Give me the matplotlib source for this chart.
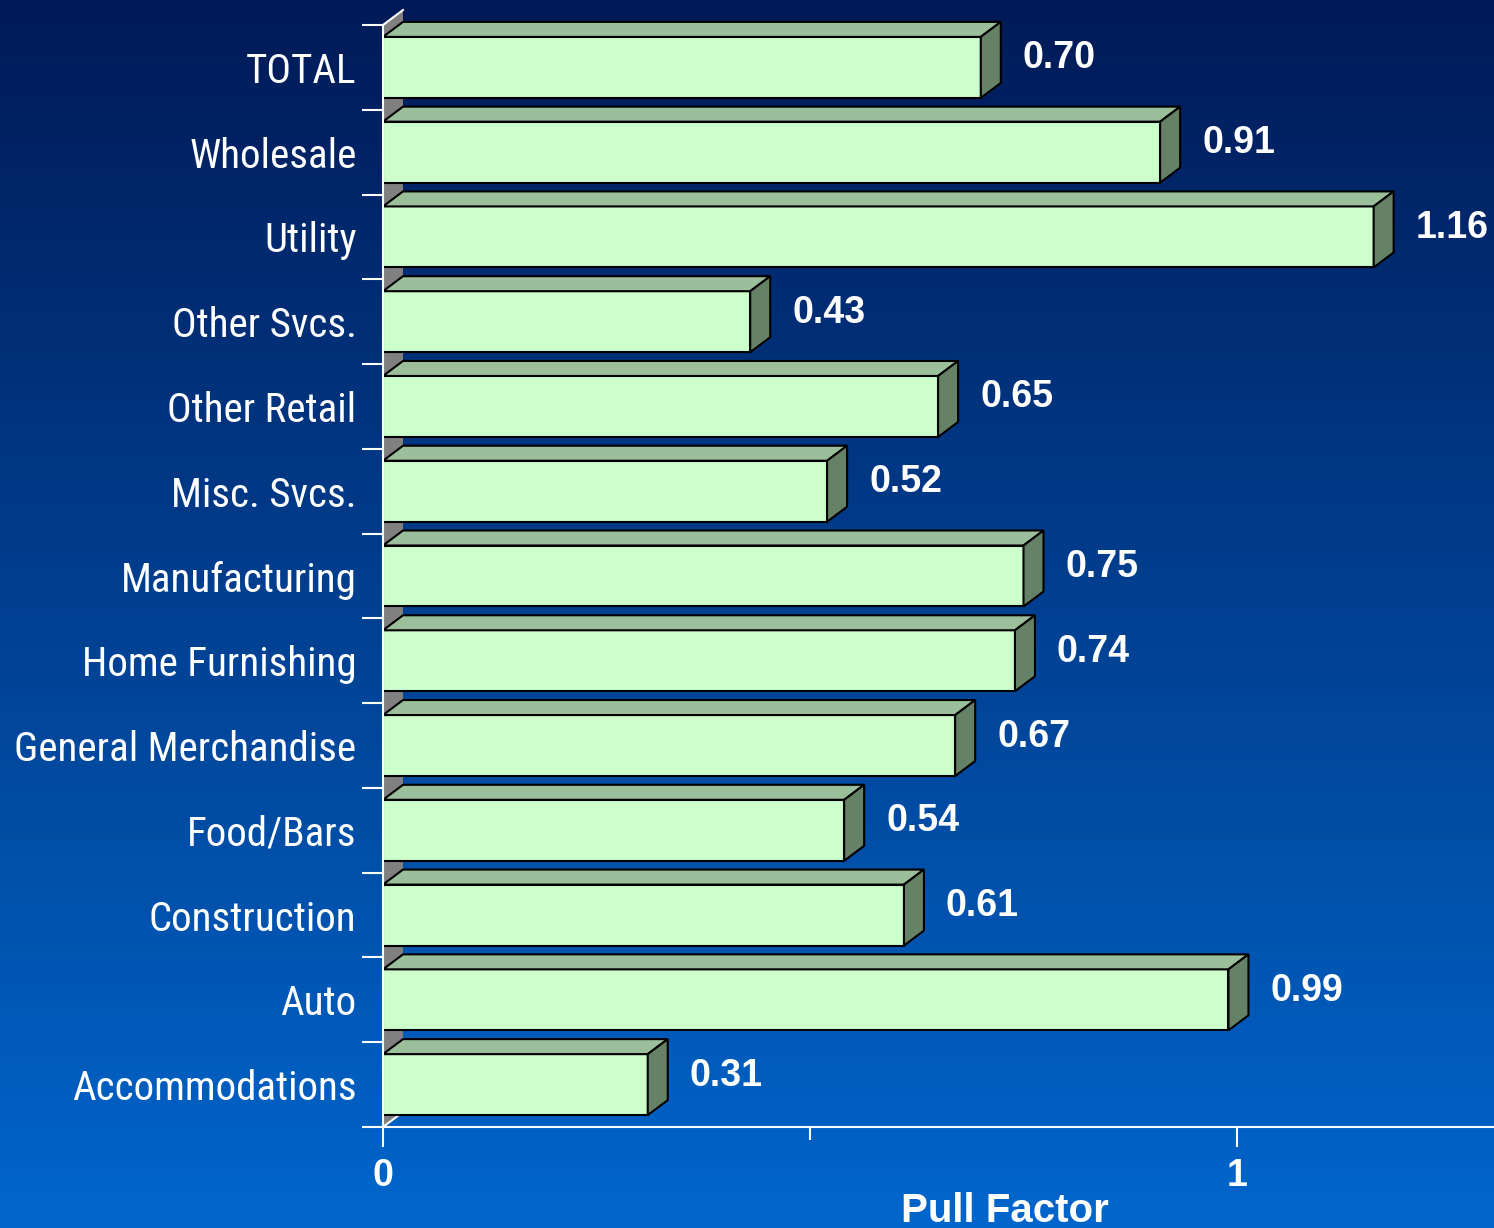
import numpy as np
import matplotlib.pyplot as plt
from matplotlib.patches import Polygon
from matplotlib.colors import LinearSegmentedColormap

categories = ["TOTAL", "Wholesale", "Utility", "Other Svcs.", "Other Retail", "Misc. Svcs.",
              "Manufacturing", "Home Furnishing", "General Merchandise", "Food/Bars",
              "Construction", "Auto", "Accommodations"]
pull_factor = [0.70, 0.91, 1.16, 0.43, 0.65, 0.52, 0.75, 0.74, 0.67, 0.54, 0.61, 0.99, 0.31]
value_labels = ["0.70", "0.91", "1.16", "0.43", "0.65", "0.52", "0.75", "0.74", "0.67",
                "0.54", "0.61", "0.99", "0.31"]
xtick_values = [0, 1]
xtick_labels = ["0", "1"]
axis_title = "Pull Factor"

W, H = 1494, 1228
fig = plt.figure(figsize=(W / 100, H / 100), dpi=100)

# background gradient
bg = fig.add_axes([0, 0, 1, 1])
cmap = LinearSegmentedColormap.from_list("bg", ["#001a57", "#0066cc"])
bg.imshow(np.linspace(0, 1, 256).reshape(-1, 1), aspect="auto", cmap=cmap,
          extent=[0, 1, 0, 1], origin="upper")
bg.axis("off")

x0_px, x1_px = 383, 1237
top_px, bot_px = 25, 1127
ax = fig.add_axes([x0_px / W, (H - bot_px) / H, (W - x0_px) / W, (bot_px - top_px) / H])
ax.patch.set_alpha(0)

n = len(categories)
unit_x = x1_px - x0_px
unit_y = (bot_px - top_px) / n
ax.set_xlim(0, (W - x0_px) / unit_x)
ax.set_ylim(-0.5, n - 0.5)

dx = 20 / unit_x
dy = 15 / unit_y
h = 61 / unit_y
ypos = np.arange(n)[::-1]

front = "#ccffcc"
topc = "#9bbf9b"
side = "#668266"

# side wall
ax.add_patch(Polygon([(0, -0.5), (dx, -0.5 + dy), (dx, n - 0.5 + dy), (0, n - 0.5)],
                     closed=True, facecolor="#808080", edgecolor="none", clip_on=False, zorder=1))
ax.plot([0, dx], [n - 0.5, n - 0.5 + dy], color="white", lw=1.5, clip_on=False, zorder=2)
ax.plot([0, dx], [-0.5, -0.5 + dy], color="white", lw=1.5, clip_on=False, zorder=2)

ax.barh(ypos, pull_factor, height=h, color=front, edgecolor="black", linewidth=1.5, zorder=3)
for y, v, lab in zip(ypos, pull_factor, value_labels):
    t = y + h / 2
    b = y - h / 2
    ax.add_patch(Polygon([(0, t), (v, t), (v + dx, t + dy), (dx, t + dy)], closed=True,
                         facecolor=topc, edgecolor="black", lw=1.5, zorder=3, clip_on=False))
    ax.add_patch(Polygon([(v, b), (v + dx, b + dy), (v + dx, t + dy), (v, t)], closed=True,
                         facecolor=side, edgecolor="black", lw=1.5, zorder=3, clip_on=False))
    ax.text(v + dx + 22 / unit_x, y + 9 / unit_y, lab, color="white", fontsize=27,
            fontweight="bold", family="Liberation Sans", ha="left", va="center")

for s in ["top", "right"]:
    ax.spines[s].set_visible(False)
for s in ["left", "bottom"]:
    ax.spines[s].set_color("white")
    ax.spines[s].set_linewidth(1.5)
    ax.spines[s].set_zorder(4)

ax.set_yticks(np.arange(-0.5, n, 1.0))
ax.set_yticklabels([])
ax.set_yticks(ypos, categories, minor=True)
ax.tick_params(axis="y", which="major", length=15, width=1.5, color="white", direction="out")
ax.tick_params(axis="y", which="minor", length=0, pad=19, labelcolor="white", labelsize=29.5)
for lab in ax.get_yticklabels(minor=True):
    lab.set_family(["Roboto Condensed", "Liberation Sans"])

ax.set_xticks(xtick_values, xtick_labels)
ax.set_xticks([0.5], minor=True)
ax.tick_params(axis="x", which="major", length=14.5, width=1.5, color="white",
               labelcolor="white", labelsize=27, pad=8)
ax.tick_params(axis="x", which="minor", length=9.5, width=1.5, color="white")
for lab in ax.get_xticklabels():
    lab.set_fontweight("bold")
    lab.set_family("Liberation Sans")

fig.text(901 / W, (H - 1222) / H, axis_title, color="white", fontsize=29, fontweight="bold",
         family="Liberation Sans", ha="left", va="baseline")

fig.savefig("out.png", dpi=100)
